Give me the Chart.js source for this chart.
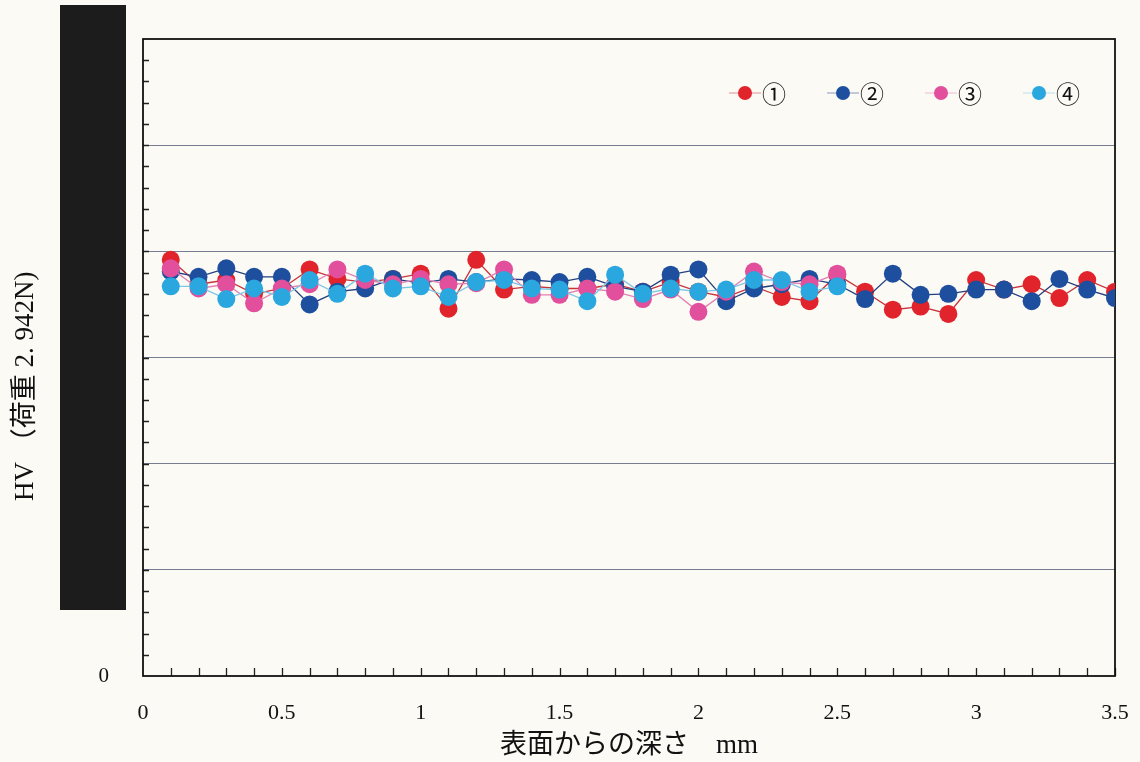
<!DOCTYPE html>
<html>
<head>
<meta charset="utf-8">
<script src="https://cdn.jsdelivr.net/npm/chart.js@4.4.1/dist/chart.umd.min.js"></script>
<style>
  html, body { margin: 0; padding: 0; background: #fbfaf4; }
  #wrap { position: relative; width: 1140px; height: 762px; }
  #mask { position: absolute; left: 60px; top: 5px; width: 66px; height: 605px; background: #1b1c1b; }
</style>
</head>
<body>
<div id="wrap">
  <canvas id="hvChart" width="1140" height="762"></canvas>
  <div id="mask"></div>
</div>
<script>
// ─── Data ──────────────────────────────────────────────────────────────────────
const depths = [0.1, 0.2, 0.3, 0.4, 0.5, 0.6, 0.7, 0.8, 0.9, 1.0,
                1.1, 1.2, 1.3, 1.4, 1.5, 1.6, 1.7, 1.8, 1.9, 2.0,
                2.1, 2.2, 2.3, 2.4, 2.5, 2.6, 2.7, 2.8, 2.9, 3.0,
                3.1, 3.2, 3.3, 3.4, 3.5];

const hv1 = [392, 369, 373, 360, 365, 383, 374, 371, 374, 379,
             346, 392, 364, 367, 365, 365, 369, 362, 371, 362,
             357, 367, 357, 353, 378, 362, 345, 348, 341, 373,
             364, 369, 356, 373, 362];
const hv2 = [381, 376, 384, 376, 376, 350, 362, 365, 374, 370,
             374, 371, 374, 373, 371, 376, 367, 362, 378, 383,
             353, 365, 369, 374, 369, 355, 379, 359, 360, 364,
             364, 353, 374, 364, 356];
const hv3 = [384, 365, 369, 351, 365, 369, 383, 373, 369, 374,
             369, 370, 383, 359, 359, 365, 362, 355, 364, 343,
             362, 381, 371, 369, 379];
const hv4 = [367, 367, 355, 365, 357, 373, 360, 379, 365, 367,
             357, 371, 373, 365, 364, 353, 378, 360, 365, 362,
             364, 373, 373, 362, 367];

const seriesNames = ['①', '②', '③', '④'];
const xTicks = [0, 0.5, 1, 1.5, 2, 2.5, 3, 3.5];
const yMax = 600;
const yTitle = 'HV （荷重 2. 942N)';

// ─── Helpers ───────────────────────────────────────────────────────────────────
const toPoints = vals => vals.map((v, i) => ({ x: depths[i], y: v }));
const serif = "'Liberation Serif', 'Noto Sans CJK JP', serif";

// frame, inner tick marks, y title and legend
const decorPlugin = {
  id: 'decor',
  beforeDatasetsDraw(chart) {
    const { ctx, chartArea: a, scales: { x, y } } = chart;
    ctx.save();
    ctx.strokeStyle = '#222';
    ctx.lineWidth = 1.3;
    ctx.beginPath();
    // x minor ticks every 0.1 (pointing up)
    for (let i = 1; i <= 35; i++) {
      const px = Math.round(x.getPixelForValue(i / 10)) + 0.5;
      ctx.moveTo(px, a.bottom);
      ctx.lineTo(px, a.bottom - 8);
    }
    // y minor ticks every 20 (pointing right)
    for (let v = 20; v < yMax; v += 20) {
      const py = Math.round(y.getPixelForValue(v)) + 0.5;
      ctx.moveTo(a.left, py);
      ctx.lineTo(a.left + 6, py);
    }
    ctx.stroke();
    // frame
    ctx.lineWidth = 1.8;
    ctx.strokeStyle = '#111';
    ctx.strokeRect(a.left, a.top, a.right - a.left, a.bottom - a.top);

    // y axis title, sits a bit below the plot centre like the original
    ctx.translate(26, y.getPixelForValue(273));
    ctx.rotate(-Math.PI / 2);
    ctx.fillStyle = '#111';
    ctx.font = "27px 'Liberation Serif', 'Noto Sans CJK JP', serif";
    ctx.textAlign = 'center';
    ctx.textBaseline = 'middle';
    ctx.fillText(yTitle, 0, 0);
    ctx.restore();
  },
  afterDraw(chart) {
    const { ctx, chartArea: a } = chart;
    const sets = chart.data.datasets;
    ctx.save();
    const rowY = a.top + 54;
    const step = 98;
    let cx = a.right - 370;
    [0, 1, 2, 3].forEach(k => {
      const ds = sets.find(d => d.label === seriesNames[k]);
      ctx.strokeStyle = ds.borderColor;
      ctx.globalAlpha = 0.35;
      ctx.lineWidth = 1.5;
      ctx.beginPath();
      ctx.moveTo(cx - 16, rowY);
      ctx.lineTo(cx + 16, rowY);
      ctx.stroke();
      ctx.globalAlpha = 1;
      ctx.fillStyle = ds.pointBackgroundColor;
      ctx.beginPath();
      ctx.arc(cx, rowY, 7, 0, Math.PI * 2);
      ctx.fill();
      ctx.fillStyle = '#111';
      ctx.font = "24px 'Noto Sans CJK JP', sans-serif";
      ctx.textBaseline = 'middle';
      ctx.textAlign = 'left';
      ctx.fillText(ds.label, cx + 17, rowY + 1);
      cx += step;
    });
    ctx.restore();
  }
};

const makeSet = (label, vals, color, lineColor, order) => ({
  label,
  data: toPoints(vals),
  borderColor: lineColor,
  backgroundColor: color,
  pointBackgroundColor: color,
  pointBorderWidth: 0,
  pointRadius: 9,
  pointHoverRadius: 9,
  borderWidth: 1.3,
  tension: 0,
  order
});

new Chart(document.getElementById('hvChart'), {
  type: 'line',
  data: {
    datasets: [
      makeSet(seriesNames[0], hv1, '#e1232c', '#c8323a', 4),
      makeSet(seriesNames[1], hv2, '#1d4f9e', '#233f80', 3),
      makeSet(seriesNames[2], hv3, '#e24f9c', '#e27fb4', 2),
      makeSet(seriesNames[3], hv4, '#2aa7de', '#7cc6e6', 1)
    ]
  },
  options: {
    responsive: false,
    animation: false,
    layout: { padding: { left: 0, right: 25, top: 39, bottom: 0 } },
    plugins: { legend: { display: false }, tooltip: { enabled: false } },
    scales: {
      x: {
        type: 'linear',
        min: 0,
        max: 3.5,
        afterFit: s => { s.height = 86; },
        afterBuildTicks: s => { s.ticks = xTicks.map(v => ({ value: v })); },
        // invisible tick marks only to push the labels down
        grid: { display: true, drawOnChartArea: false, tickLength: 24, tickColor: 'transparent', color: 'transparent' },
        border: { display: false },
        ticks: {
          padding: 0,
          color: '#111',
          font: { family: serif, size: 22 },
          callback: v => String(v)
        },
        title: {
          display: true,
          text: '表面からの深さ　mm',
          color: '#111',
          font: { family: serif, size: 27 },
          padding: { top: 0, bottom: 0 }
        }
      },
      y: {
        min: 0,
        max: yMax,
        afterFit: s => { s.width = 143; },
        grid: {
          lineWidth: 1,
          tickLength: 34,
          tickColor: 'transparent',
          color: c => (c.tick.value > 0 && c.tick.value < yMax) ? '#767c92' : 'transparent'
        },
        border: { display: false },
        ticks: {
          stepSize: 100,
          padding: 0,
          color: '#111',
          font: { family: serif, size: 21 }
        }
      }
    }
  },
  plugins: [decorPlugin]
});
</script>
</body>
</html>
